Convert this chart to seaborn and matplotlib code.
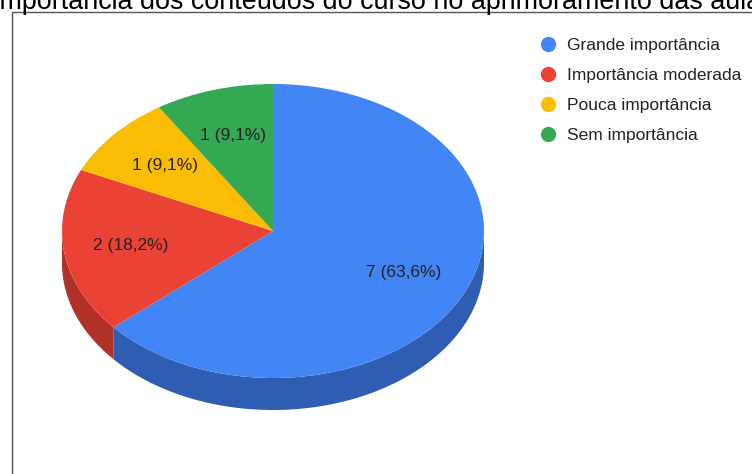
import matplotlib
matplotlib.use("Agg")
import matplotlib.pyplot as plt
import seaborn as sns
import numpy as np
from matplotlib.lines import Line2D
from matplotlib.patches import Rectangle

# Survey answers
title = "Importância dos conteúdos do curso no aprimoramento das aulas"
categories = ["Grande importância", "Importância moderada", "Pouca importância", "Sem importância"]
counts = [7, 2, 1, 1]
face_colors = ["#4285F4", "#EA4335", "#FBBC04", "#34A853"]
side_colors = ["#2F5DB2", "#B1302A", "#C08E00", "#25803E"]

sns.set_theme(style="white")
plt.rcParams["font.family"] = ["Liberation Sans", "DejaVu Sans"]

W, H = 752, 474
fig = plt.figure(figsize=(W / 100, H / 100), dpi=100)
fig.patch.set_facecolor("white")

# Tilted pie: top face is an ellipse, with a thick rim underneath
cx, cy, rx, ry, depth = 273, 231, 211, 147, 32
d = depth / ry
ax = fig.add_axes([(cx - rx) / W, 1 - (cy + ry + depth) / H, 2 * rx / W, (2 * ry + depth) / H])

total = sum(counts)


def fmt(p):
    return f"{int(round(p * total / 100))} ({p:.1f}%)".replace(".", ",")


wedges, texts, autotexts = ax.pie(
    counts, colors=face_colors, startangle=90, counterclock=False,
    autopct=fmt, pctdistance=0.68,
    wedgeprops=dict(linewidth=0),
    textprops=dict(fontsize=12.5, color="#222222"),
)
ax.set_aspect("auto")
ax.set_xlim(-1, 1)
ax.set_ylim(-1 - d, 1)
ax.axis("off")

# Rim: visible front half of each slice (angles between -180 and 0 degrees)
start = 90.0
for v, c in zip(counts, side_colors):
    end = start - 360.0 * v / total
    for k in (-360.0, 0.0, 360.0):
        lo = max(end + k, -180.0)
        hi = min(start + k, 0.0)
        if hi > lo:
            t = np.radians(np.linspace(lo, hi, 200))
            xs = np.concatenate([np.cos(t), np.cos(t[::-1])])
            ys = np.concatenate([np.sin(t), np.sin(t[::-1]) - d])
            ax.fill(xs, ys, color=c, linewidth=0, zorder=0)
    start = end

# Chart frame
fig.patches.append(Rectangle((11.5 / W, -0.1), 2.0, 1 - 12.5 / H + 0.1,
                             transform=fig.transFigure, fill=False,
                             edgecolor="#555555", linewidth=1.0))

# Title (runs past the figure edges)
fig.text(383 / W, 1 - 9 / H, title, ha="center", va="baseline",
         fontsize=19.4, color="#000000")

# Legend
handles = [Line2D([], [], marker="o", linestyle="", markersize=11,
                  markerfacecolor=c, markeredgewidth=0) for c in face_colors]
fig.legend(handles, categories, loc="upper left",
           bbox_to_anchor=(539 / W, 1 - 38 / H), frameon=False,
           fontsize=12.5, handlelength=1.0, handletextpad=0.59,
           labelspacing=0.85, borderpad=0, borderaxespad=0,
           labelcolor="#222222")

fig.savefig("out.png", dpi=100, facecolor="white")
